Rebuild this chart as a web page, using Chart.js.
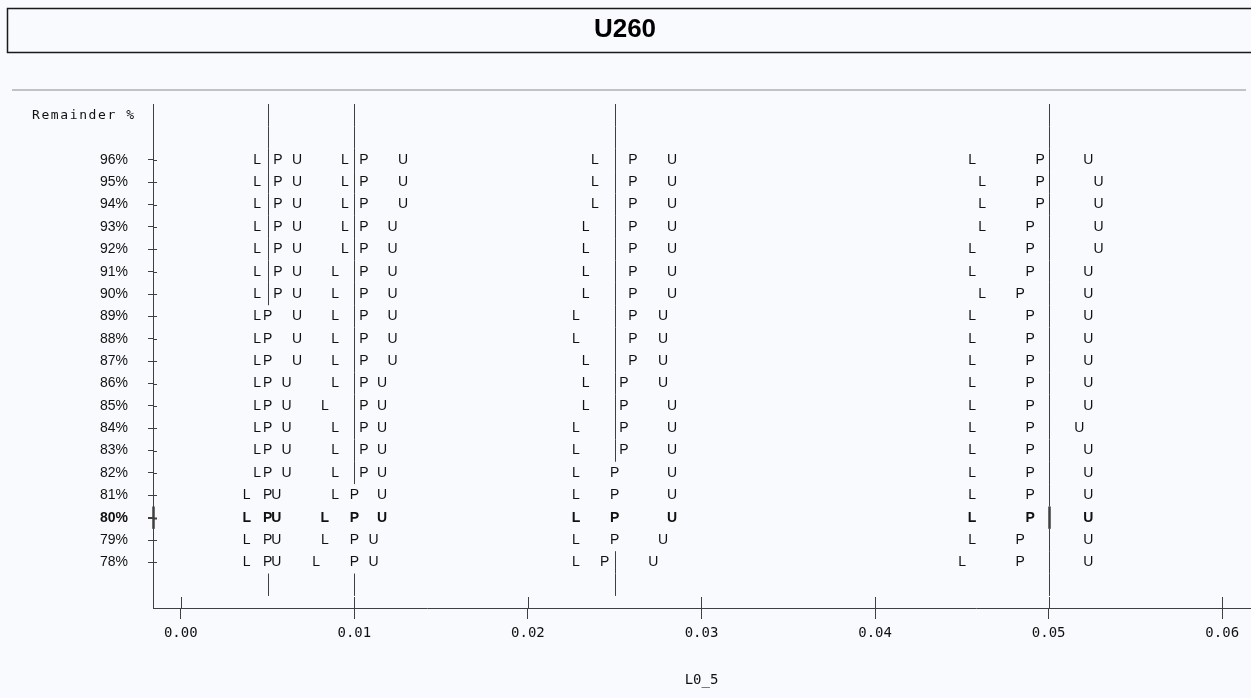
<!DOCTYPE html>
<html><head><meta charset="utf-8">
<script src="https://cdn.jsdelivr.net/npm/chart.js@4.4.1/dist/chart.umd.min.js"></script>
<style>html,body{margin:0;padding:0;background:#f9fafd;overflow:hidden}canvas{display:block}</style>
</head><body>
<canvas id="c" width="1251" height="698"></canvas>
<script>
const chartTitle = 'U260';
const yAxisTitle = 'Remainder %';
const xAxisTitle = 'L0_5';
const categories = ['96%','95%','94%','93%','92%','91%','90%','89%','88%','87%','86%','85%','84%','83%','82%','81%','80%','79%','78%'];
const boldCategory = '80%';
const xTickValues = [0, 0.01, 0.02, 0.03, 0.04, 0.05, 0.06];
const xTickLabels = ['0.00','0.01','0.02','0.03','0.04','0.05','0.06'];
const refValues = [0.005, 0.01, 0.025, 0.05];

const L1 = [0.0044,0.0044,0.0044,0.0044,0.0044,0.0044,0.0044,0.0044,0.0044,0.0044,0.0044,0.0044,0.0044,0.0044,0.0044,0.0038,0.0038,0.0038,0.0038];
const P1 = [0.0056,0.0056,0.0056,0.0056,0.0056,0.0056,0.0056,0.005,0.005,0.005,0.005,0.005,0.005,0.005,0.005,0.005,0.005,0.005,0.005];
const U1 = [0.0067,0.0067,0.0067,0.0067,0.0067,0.0067,0.0067,0.0067,0.0067,0.0067,0.0061,0.0061,0.0061,0.0061,0.0061,0.0055,0.0055,0.0055,0.0055];

const L2 = [0.00945,0.00945,0.00945,0.00945,0.00945,0.0089,0.0089,0.0089,0.0089,0.0089,0.0089,0.0083,0.0089,0.0089,0.0089,0.0089,0.0083,0.0083,0.0078];
const P2 = [0.01055,0.01055,0.01055,0.01055,0.01055,0.01055,0.01055,0.01055,0.01055,0.01055,0.01055,0.01055,0.01055,0.01055,0.01055,0.01,0.01,0.01,0.01];
const U2 = [0.0128,0.0128,0.0128,0.0122,0.0122,0.0122,0.0122,0.0122,0.0122,0.0122,0.0116,0.0116,0.0116,0.0116,0.0116,0.0116,0.0116,0.0111,0.0111];

const L3 = [0.02386,0.02386,0.02386,0.02333,0.02333,0.02333,0.02333,0.02277,0.02277,0.02333,0.02333,0.02333,0.02277,0.02277,0.02277,0.02277,0.02277,0.02277,0.02277];
const P3 = [0.02605,0.02605,0.02605,0.02605,0.02605,0.02605,0.02605,0.02605,0.02605,0.02605,0.02553,0.02553,0.02553,0.02553,0.025,0.025,0.025,0.025,0.02442];
const U3 = [0.0283,0.0283,0.0283,0.0283,0.0283,0.0283,0.0283,0.02778,0.02778,0.02778,0.02778,0.0283,0.0283,0.0283,0.0283,0.0283,0.0283,0.02778,0.02722];

const L4 = [0.04559,0.04617,0.04617,0.04617,0.04559,0.04559,0.04617,0.04559,0.04559,0.04559,0.04559,0.04559,0.04559,0.04559,0.04559,0.04559,0.04559,0.04559,0.04501];
const P4 = [0.04951,0.04951,0.04951,0.04893,0.04893,0.04893,0.04836,0.04893,0.04893,0.04893,0.04893,0.04893,0.04893,0.04893,0.04893,0.04893,0.04893,0.04836,0.04836];
const U4 = [0.05228,0.05288,0.05288,0.05288,0.05288,0.05228,0.05228,0.05228,0.05228,0.05228,0.05228,0.05228,0.05176,0.05228,0.05228,0.05228,0.05228,0.05228,0.05228];

const SANS = "'Liberation Sans', Arial, Helvetica, sans-serif";
const MONO = "'DejaVu Sans Mono', 'Liberation Mono', monospace";
const INK = '#111';
const LINE = '#3f3f3f';

const series = [
  ['L', L1], ['P', P1], ['U', U1],
  ['L', L2], ['P', P2], ['U', U2],
  ['L', L3], ['P', P3], ['U', U3],
  ['L', L4], ['P', P4], ['U', U4]
];
const datasets = series.map(([letter, arr]) => ({
  type: 'scatter',
  letter: letter,
  data: arr.map((v, i) => ({ x: v, y: i })),
  pointRadius: 0,
  pointHoverRadius: 0,
  showLine: false
}));

const boldIndex = categories.indexOf(boldCategory);

const deco = {
  id: 'deco',
  beforeDraw(chart) {
    const ctx = chart.ctx;
    ctx.save();
    ctx.fillStyle = '#f9fafd';
    ctx.fillRect(0, 0, chart.width, chart.height);
    ctx.strokeStyle = '#1a1a1a';
    ctx.lineWidth = 1.5;
    ctx.beginPath();
    ctx.moveTo(chart.width + 5, 8.5);
    ctx.lineTo(7.5, 8.5);
    ctx.lineTo(7.5, 52.5);
    ctx.lineTo(chart.width + 5, 52.5);
    ctx.stroke();
    ctx.fillStyle = '#c2c2c2';
    ctx.fillRect(12, 89, chart.width - 17, 2);
    ctx.restore();
  },
  afterDatasetsDraw(chart) {
    const ctx = chart.ctx, xs = chart.scales.x, ys = chart.scales.y, ca = chart.chartArea;
    ctx.save();
    // reference lines, broken where a letter sits on them
    ctx.strokeStyle = LINE;
    refValues.forEach(r => {
      const px = Math.round(xs.getPixelForValue(r)) + 0.5;
      for (let k = -2; k <= categories.length; k++) {
        let hit = false;
        if (k >= 0 && k < categories.length) {
          hit = chart.data.datasets.some(ds => Math.abs(xs.getPixelForValue(ds.data[k].x) - px) < 5);
        }
        if (hit) continue;
        ctx.lineWidth = (k === boldIndex) ? 2.5 : 1;
        ctx.beginPath();
        ctx.moveTo(px, ys.getPixelForValue(k - 0.5));
        ctx.lineTo(px, ys.getPixelForValue(k + 0.5));
        ctx.stroke();
      }
    });
    // inner halves of y ticks
    categories.forEach((c, i) => {
      const y = Math.round(ys.getPixelForValue(i)) + 0.5;
      ctx.lineWidth = (i === boldIndex) ? 2 : 1;
      ctx.beginPath();
      ctx.moveTo(ca.left, y);
      ctx.lineTo(ca.left + 4, y);
      ctx.stroke();
    });
    // bold axis segment
    ctx.lineWidth = 2.5;
    ctx.beginPath();
    ctx.moveTo(ca.left + 0.5, ys.getPixelForValue(boldIndex - 0.5));
    ctx.lineTo(ca.left + 0.5, ys.getPixelForValue(boldIndex + 0.5));
    ctx.stroke();
    // upper halves of x ticks
    ctx.lineWidth = 1;
    xTickValues.forEach(v => {
      const x = Math.round(xs.getPixelForValue(v)) + 0.5;
      ctx.beginPath();
      ctx.moveTo(x, ca.bottom - 11);
      ctx.lineTo(x, ca.bottom);
      ctx.stroke();
    });
    // letters
    ctx.fillStyle = INK;
    ctx.textAlign = 'center';
    ctx.textBaseline = 'middle';
    chart.data.datasets.forEach((ds, di) => {
      const meta = chart.getDatasetMeta(di);
      meta.data.forEach((el, i) => {
        ctx.font = (i === boldIndex ? 'bold ' : '') + '14px ' + SANS;
        ctx.fillText(ds.letter, el.x, el.y);
      });
    });
    // y axis title in the top row
    ctx.font = '13px ' + MONO;
    ctx.letterSpacing = '1.6px';
    ctx.textAlign = 'left';
    ctx.fillText(yAxisTitle, 32, ys.getPixelForValue(-2));
    ctx.restore();
  }
};

new Chart(document.getElementById('c'), {
  type: 'scatter',
  data: { datasets: datasets },
  options: {
    responsive: false,
    animation: false,
    devicePixelRatio: 1,
    events: [],
    layout: { padding: { left: 0, right: 1, top: 0, bottom: 0 } },
    plugins: {
      legend: { display: false },
      tooltip: { enabled: false },
      title: {
        display: true,
        text: chartTitle,
        color: '#000',
        font: { family: SANS, size: 26, weight: 'bold', lineHeight: 1.2 },
        padding: { top: 14.4, bottom: 58.4 }
      }
    },
    scales: {
      x: {
        type: 'linear',
        min: -0.0016,
        max: 0.0616,
        afterBuildTicks: s => { s.ticks = xTickValues.map(v => ({ value: v })); },
        afterFit: s => { s.height = 90; },
        ticks: {
          callback: (v, i) => xTickLabels[i],
          font: { family: MONO, size: 14 },
          color: INK,
          padding: 6,
          maxRotation: 0,
          autoSkip: false
        },
        grid: { drawOnChartArea: false, drawTicks: true, tickLength: 11, color: LINE, lineWidth: 1 },
        border: { display: true, color: LINE, width: 1 },
        title: {
          display: true,
          text: xAxisTitle,
          color: INK,
          font: { family: MONO, size: 14 },
          padding: { top: 0, bottom: 9 }
        }
      },
      y: {
        type: 'linear',
        reverse: true,
        min: -2.5,
        max: 20.04,
        afterBuildTicks: s => { s.ticks = categories.map((c, i) => ({ value: i })); },
        afterFit: s => { s.width = 153; },
        ticks: {
          callback: v => categories[v],
          font: ctx => ({ family: SANS, size: 14, weight: (ctx.tick && ctx.tick.value === boldIndex) ? 'bold' : 'normal' }),
          color: INK,
          padding: 20,
          autoSkip: false
        },
        grid: {
          drawOnChartArea: false,
          drawTicks: true,
          tickLength: 5,
          color: LINE,
          lineWidth: ctx => (ctx.tick && ctx.tick.value === boldIndex) ? 2 : 1
        },
        border: { display: true, color: LINE, width: 1 }
      }
    }
  },
  plugins: [deco]
});
</script>
</body></html>
